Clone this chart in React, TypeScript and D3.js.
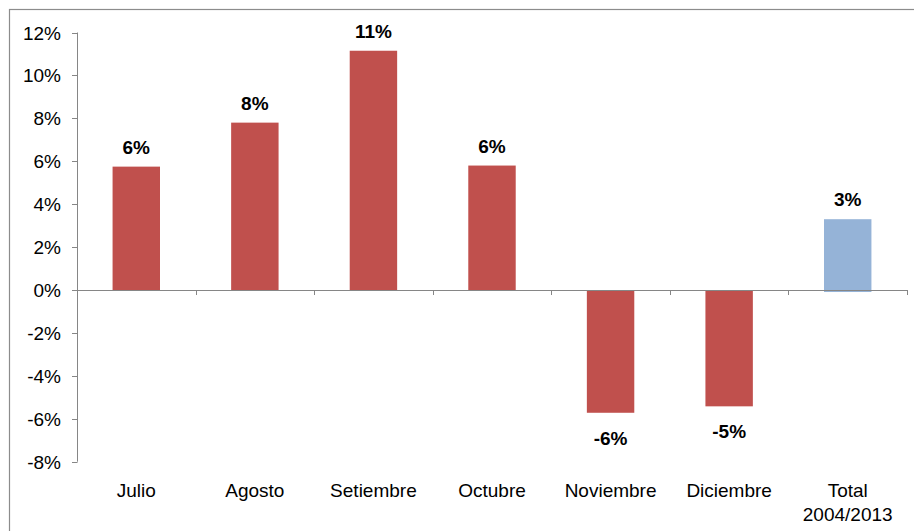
import React from "react";
import { scaleBand, scaleLinear } from "d3";

const categories = ["Julio", "Agosto", "Setiembre", "Octubre", "Noviembre", "Diciembre", "Total\n2004/2013"];
const values = [5.75, 7.8, 11.15, 5.8, -5.72, -5.42, 3.3];
const labels = ["6%", "8%", "11%", "6%", "-6%", "-5%", "3%"];
const yTicks = [12, 10, 8, 6, 4, 2, 0, -2, -4, -6, -8];

const W = 914;
const H = 531;
const RED = "#C0504D";
const BLUE = "#95B3D7";
const AXIS = "#868686";
const FONT = "'Liberation Sans', Arial, sans-serif";
const FS = 19;

export default function App() {
    const x = scaleBand<string>()
        .domain(categories)
        .range([77, 907])
        .paddingInner(0.6)
        .paddingOuter(0.3);
    const y = scaleLinear().domain([-8, 12]).range([461.7, 32.5]);
    const y0 = y(0);
    const step = x.step();

    return (
        <div style={{ position: "absolute", left: 0, top: 0 }}>
            <svg width={W} height={H} style={{ display: "block" }}>
                <rect x={0} y={0} width={W} height={H} fill="#fff" />
                {/* outer frame */}
                <rect x={9.5} y={9.5} width={W + 20} height={H + 20} fill="none" stroke="#8c8c8c" strokeWidth={1.2} />

                {/* bars */}
                {categories.map((c, i) => {
                    const v = values[i];
                    const top = v >= 0 ? y(v) : y0;
                    const h = Math.abs(y(v) - y0);
                    return (
                        <rect
                            key={c}
                            x={x(c)}
                            y={top}
                            width={x.bandwidth()}
                            height={h + (i === categories.length - 1 ? 2 : 0)}
                            fill={i === categories.length - 1 ? BLUE : RED}
                        />
                    );
                })}

                {/* y axis */}
                <line x1={77.5} x2={77.5} y1={y(12)} y2={y(-8)} stroke={AXIS} strokeWidth={1} />
                {yTicks.map((t) => (
                    <g key={t}>
                        <line x1={72} x2={77.5} y1={Math.round(y(t)) + 0.5} y2={Math.round(y(t)) + 0.5} stroke={AXIS} />
                        <text
                            x={61}
                            y={y(t) + 7}
                            textAnchor="end"
                            fontFamily={FONT}
                            fontSize={FS}
                            fill="#000"
                        >
                            {t}%
                        </text>
                    </g>
                ))}

                {/* x axis */}
                <line x1={77} x2={907} y1={Math.round(y0) + 0.5} y2={Math.round(y0) + 0.5} stroke={AXIS} strokeWidth={1} />
                {categories.map((c, i) => (
                    <line
                        key={"t" + i}
                        x1={Math.round(77 + (i + 1) * step) + 0.5}
                        x2={Math.round(77 + (i + 1) * step) + 0.5}
                        y1={y0}
                        y2={y0 + 5}
                        stroke={AXIS}
                    />
                ))}

                {/* category labels */}
                {categories.map((c) => {
                    const cx = (x(c) as number) + x.bandwidth() / 2;
                    const lines = c.split("\n");
                    return (
                        <text key={"c" + c} x={cx} textAnchor="middle" fontFamily={FONT} fontSize={FS} fill="#000">
                            {lines.map((l, j) => (
                                <tspan key={j} x={cx} y={497 + j * 24}>
                                    {l}
                                </tspan>
                            ))}
                        </text>
                    );
                })}

                {/* value labels */}
                {categories.map((c, i) => {
                    const v = values[i];
                    const cx = (x(c) as number) + x.bandwidth() / 2;
                    const ly = v >= 0 ? y(v) - 13 : y(v) + 32;
                    return (
                        <text
                            key={"v" + c}
                            x={cx}
                            y={ly}
                            textAnchor="middle"
                            fontFamily={FONT}
                            fontSize={FS}
                            fontWeight="bold"
                            fill="#000"
                        >
                            {labels[i]}
                        </text>
                    );
                })}
            </svg>
        </div>
    );
}
